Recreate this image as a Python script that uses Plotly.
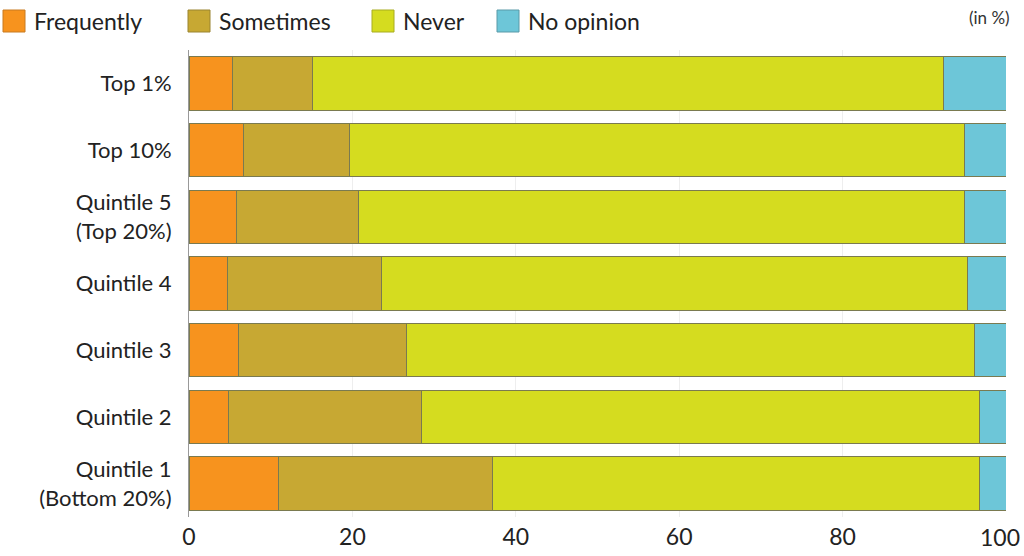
import plotly.graph_objects as go

categories = ["Top 1%", "Top 10%", "Quintile 5<br>(Top 20%)", "Quintile 4",
              "Quintile 3", "Quintile 2", "Quintile 1<br>(Bottom 20%)"]
frequently = [5.3, 6.7, 5.8, 4.7, 6.1, 4.8, 11.0]
sometimes = [9.8, 13.0, 14.9, 18.9, 20.5, 23.6, 26.2]
never = [77.3, 75.2, 74.2, 71.7, 69.6, 68.3, 59.5]
no_opinion = [7.6, 5.1, 5.1, 4.7, 3.8, 3.3, 3.3]
series_names = ["Frequently", "Sometimes", "Never", "No opinion"]
colors = ["#F7931E", "#C7A833", "#D5DC1F", "#6DC6D8"]
borders = ["#c87a20", "#9a8430", "#a8ad20", "#5a9aa8"]
x_ticks = [0, 20, 40, 60, 80, 100]

FONT = "Lato, Roboto, Liberation Sans, sans-serif"

W, H = 1024, 556
L, R, T, B = 189, 18, 50, 39
PW, PH = W - L - R, H - T - B

def px(xp):
    return (xp - L) / PW

def py(yp):
    return (H - B - yp) / PH

fig = go.Figure()
for name, vals, col in zip(series_names, [frequently, sometimes, never, no_opinion], colors):
    fig.add_trace(go.Bar(
        y=categories, x=vals, name=name, orientation="h",
        marker=dict(color=col, line=dict(color="#7a7a50", width=1)),
        width=0.8, showlegend=False,
    ))

fig.update_layout(
    barmode="stack",
    width=W, height=H,
    margin=dict(l=L, r=R, t=T, b=B),
    paper_bgcolor="white", plot_bgcolor="white",
    font=dict(family=FONT, size=22, color="#222"),
)

# manual legend
leg_sq_x = [3, 188, 372, 497]
for name, col, bc, sx in zip(series_names, colors, borders, leg_sq_x):
    fig.add_shape(type="rect", xref="paper", yref="paper",
                  x0=px(sx), x1=px(sx + 22), y0=py(32), y1=py(10),
                  fillcolor=col, line=dict(color=bc, width=1))
    fig.add_annotation(text=name, x=px(sx + 29), y=py(21), xref="paper", yref="paper",
                       xanchor="left", yanchor="middle", showarrow=False,
                       font=dict(size=23, color="#222"))

fig.add_annotation(text="(in %)", x=px(1012), y=py(18), xref="paper", yref="paper",
                   xanchor="right", yanchor="middle", showarrow=False,
                   font=dict(size=17, color="#333"))

# tick labels: last one drawn as annotation so it is not clipped by the page edge
tick_text = [str(v) for v in x_ticks[:-1]] + [""]
fig.add_annotation(text=str(x_ticks[-1]), x=x_ticks[-1], xref="x", y=0, yref="paper",
                   xanchor="center", yanchor="middle", showarrow=False,
                   xshift=-6, yshift=-20, font=dict(size=23, color="#222"))

fig.update_xaxes(range=[0, 100], tickvals=x_ticks, ticktext=tick_text,
                 showgrid=True, gridcolor="#eeeeee",
                 zeroline=False, showline=False, ticks="", automargin=False,
                 ticklabelstandoff=4,
                 tickfont=dict(size=23, color="#222"))
fig.update_yaxes(autorange="reversed", showline=True, linecolor="#999", linewidth=1,
                 ticks="", ticklabelstandoff=12, automargin=False,
                 tickfont=dict(size=22, color="#222"))

fig.write_html("out.html")
